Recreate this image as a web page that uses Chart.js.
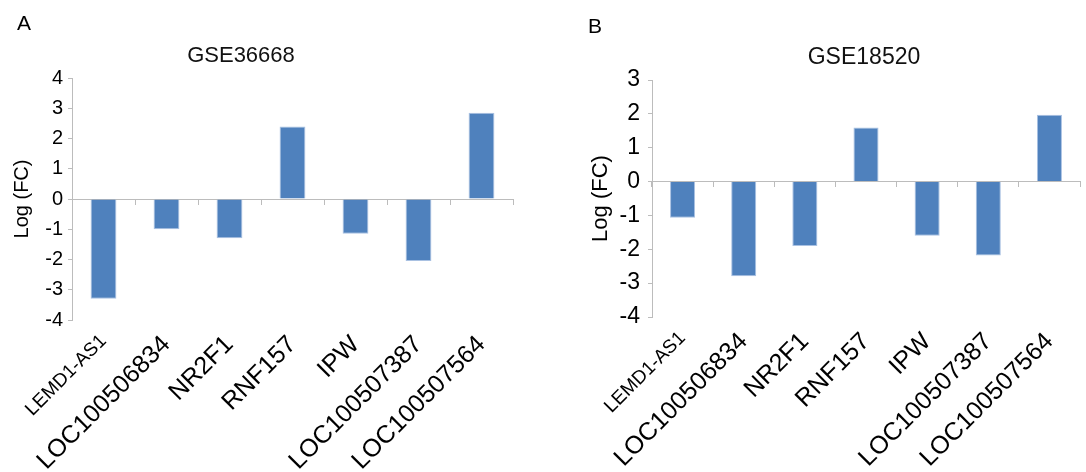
<!DOCTYPE html>
<html>
<head>
<meta charset="utf-8">
<script src="https://cdn.jsdelivr.net/npm/chart.js@4.4.0/dist/chart.umd.min.js"></script>
<style>
    body { margin: 0; background: #fff; }
    #wrap { position: relative; width: 1086px; height: 472px; overflow: hidden; }
    .panel { position: absolute; top: 0; width: 543px; height: 472px; }
    .letter, .ttl { position: absolute; font-family: 'Liberation Sans', Arial, sans-serif; color: #000; }
    .letter { font-size: 21px; line-height: 21px; }
    .ttl { width: 300px; text-align: center; color: #111; }
</style>
</head>
<body>
<div id="wrap">
    <div class="panel" style="left:0"><canvas id="chartA" width="543" height="472"></canvas></div>
    <div class="panel" style="left:543px"><canvas id="chartB" width="543" height="472"></canvas></div>
    <div class="letter" style="left:17px; top:12px">A</div>
    <div class="letter" style="left:588px; top:15px">B</div>
    <div class="ttl" style="left:91px; top:44px; font-size:22px; line-height:22px">GSE36668</div>
    <div class="ttl" style="left:714px; top:45px; font-size:23px; line-height:23px">GSE18520</div>
</div>
<script>
// --- Datos ---
const geneLabels = ['LEMD1-AS1', 'LOC100506834', 'NR2F1', 'RNF157', 'IPW', 'LOC100507387', 'LOC100507564'];
const gse36668Values = [-3.3, -1.0, -1.3, 2.4, -1.15, -2.05, 2.85];
const gse18520Values = [-1.07, -2.8, -1.9, 1.6, -1.6, -2.18, 1.97];
const yTicksA = [-4, 4];   // min / max eje Y panel A
const yTicksB = [-4, 3];   // min / max eje Y panel B

const colors = {
    bar: '#4F81BD',
    barEdge: '#a9c1e2',
    axis: '#bcbcbc',
    text: '#000'
};

Chart.defaults.font.family = "'Liberation Sans', Arial, sans-serif";
Chart.defaults.color = colors.text;

// Crea un panel con su propia geometría
function makePanel(canvasId, values, yRange, geo) {
    const ctx = document.getElementById(canvasId).getContext('2d');
    return new Chart(ctx, {
        type: 'bar',
        data: {
            labels: geneLabels,
            datasets: [{
                data: values,
                backgroundColor: colors.bar,
                borderColor: colors.barEdge,
                borderWidth: 1,
                categoryPercentage: 1,
                barPercentage: 0.41
            }]
        },
        options: {
            responsive: false,
            animation: false,
            layout: { padding: { top: geo.top, left: 0, right: geo.right, bottom: 0 } },
            plugins: {
                legend: { display: false },
                tooltip: { enabled: false },
                title: { display: false }
            },
            scales: {
                x: {
                    type: 'category',
                    border: { display: false },
                    grid: { display: false },
                    ticks: {
                        minRotation: 45,
                        maxRotation: 45,
                        padding: geo.xPad,
                        color: '#000',
                        autoSkip: false,
                        font: (c) => ({ size: c.index === 0 ? 19 : 25 })
                    },
                    afterFit: (s) => { s.height = geo.xHeight; }
                },
                x2: {
                    type: 'category',
                    position: { y: 0 },
                    offset: true,
                    border: { color: colors.axis, width: 1 },
                    grid: { offset: true, drawOnChartArea: false, tickLength: 5, color: colors.axis },
                    ticks: { display: false }
                },
                y: {
                    min: yRange[0],
                    max: yRange[1],
                    border: { color: colors.axis, width: 1 },
                    grid: { drawOnChartArea: false, tickLength: 4, color: colors.axis },
                    ticks: { stepSize: 1, padding: geo.yPad, font: { size: geo.tickSize }, color: '#000' },
                    title: {
                        display: true,
                        text: 'Log (FC)',
                        color: '#000',
                        font: { size: geo.yTitleSize },
                        padding: { top: geo.yTitlePad, bottom: 0 }
                    },
                    afterFit: (s) => { s.width = geo.yWidth; }
                }
            }
        }
    });
}

makePanel('chartA', gse36668Values, yTicksA, {
    top: 78, right: 30, xHeight: 152, xPad: 2,
    tickSize: 20, yPad: 5, yTitleSize: 20, yTitlePad: 10, yWidth: 72
});

makePanel('chartB', gse18520Values, yTicksB, {
    top: 80, right: 6, xHeight: 155, xPad: 2,
    tickSize: 23, yPad: 8, yTitleSize: 22, yTitlePad: 44.8, yWidth: 109
});
</script>
</body>
</html>
